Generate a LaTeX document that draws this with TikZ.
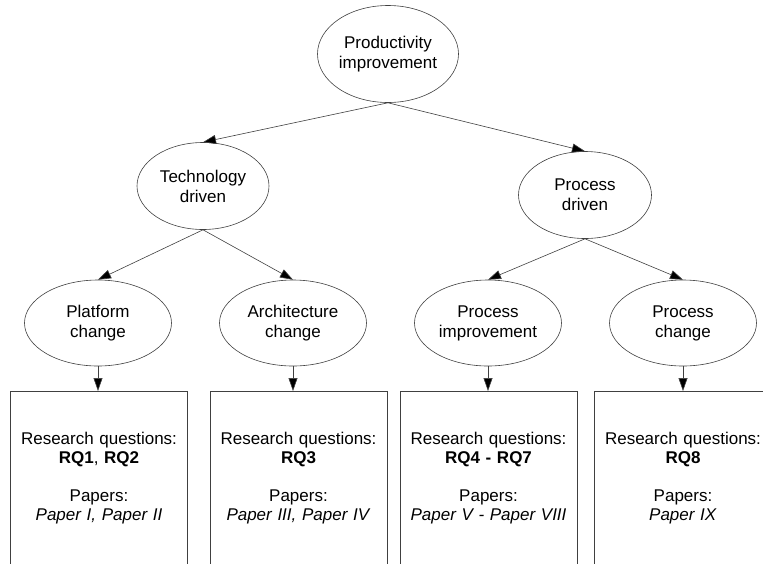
\documentclass[tikz,border=0pt]{standalone}
\usepackage{fontspec}
\setmainfont{Liberation Sans}
\usepackage{tikz}
\usetikzlibrary{shapes.geometric,arrows.meta,positioning}

\begin{document}
\begin{tikzpicture}[
    x=1pt, y=-1pt,
    goal/.style={ellipse, draw=black!75, line width=0.6pt, inner sep=0pt, minimum width=147pt, minimum height=86pt, align=center, font=\fontsize{17}{20}\selectfont},
    box/.style={rectangle, draw=black!75, line width=0.6pt, anchor=north, text width=170pt, minimum width=176pt, minimum height=174pt, align=center, font=\fontsize{17}{19}\selectfont},
    line/.style={-{Triangle[length=13pt,width=9pt,fill=black]}, line width=0.6pt, draw=black!75}
]
    \clip (0,0) rectangle (763,563);

    \node[goal, minimum width=141pt, minimum height=97pt] (prod) at (388,54) {Productivity\\improvement};
    \node[goal, minimum width=132pt, minimum height=87pt] (tech) at (203,186) {Technology\\driven};
    \node[goal, minimum width=133pt, minimum height=87pt] (procd) at (585,195) {Process\\driven};

    \node[goal] (plat) at (98,323) {Platform\\change};
    \node[goal] (arch) at (293,323) {Architecture\\change};
    \node[goal] (pimp) at (488,323) {Process\\improvement};
    \node[goal] (pchg) at (683,323) {Process\\change};

    \node[box] (rq1) at (99,391) {Research questions:\\\textbf{RQ1}, \textbf{RQ2}\\[19pt]Papers:\\\textit{Paper I, Paper II}};
    \node[box] (rq3) at (298.5,391) {Research questions:\\\textbf{RQ3}\\[19pt]Papers:\\\textit{Paper III, Paper IV}};
    \node[box] (rq4) at (488.5,391) {Research questions:\\\textbf{RQ4 - RQ7}\\[19pt]Papers:\\\textit{Paper V - Paper VIII}};
    \node[box] (rq8) at (683,391) {Research questions:\\\textbf{RQ8}\\[19pt]Papers:\\\textit{Paper IX}};

    \draw[line] (prod.south) -- (tech.north);
    \draw[line] (prod.south) -- (procd.north);
    \draw[line] (tech.south) -- (plat.north);
    \draw[line] (tech.south) -- (arch.north);
    \draw[line] (procd.south) -- (pimp.north);
    \draw[line] (procd.south) -- (pchg.north);

    \draw[line] (plat.south) -- (plat.south |- rq1.north);
    \draw[line] (arch.south) -- (arch.south |- rq3.north);
    \draw[line] (pimp.south) -- (pimp.south |- rq4.north);
    \draw[line] (pchg.south) -- (pchg.south |- rq8.north);
\end{tikzpicture}
\end{document}
